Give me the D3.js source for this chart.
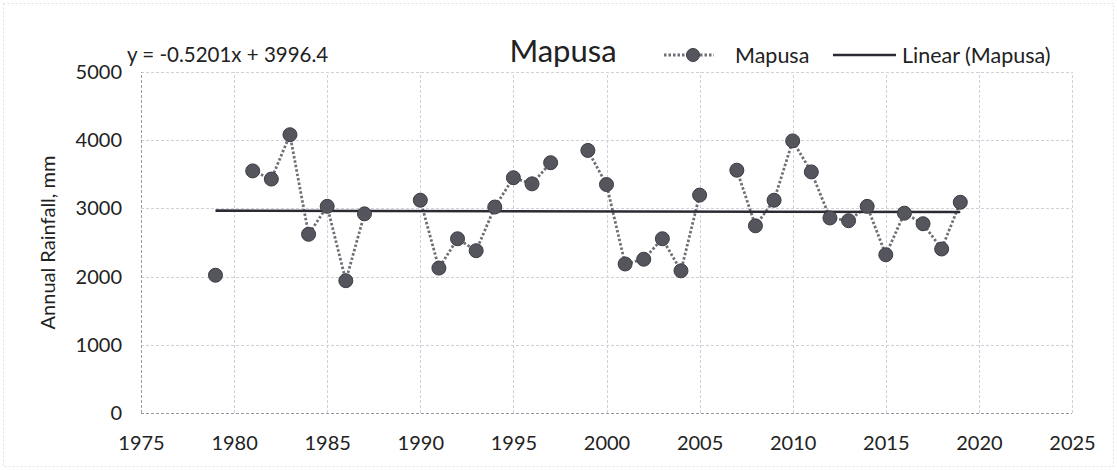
<!DOCTYPE html>
<html>
<head>
<meta charset="utf-8">
<script src="https://cdn.jsdelivr.net/npm/d3@7"></script>
<style>
  body { margin: 0; background: #fff; }
  svg { display: block; font-family: Lato, "Open Sans", sans-serif; }
</style>
</head>
<body>
<svg id="chart"></svg>
<script>
// annual rainfall at Mapusa (mm), null = no record
const years = [1979, 1980, 1981, 1982, 1983, 1984, 1985, 1986, 1987, 1988, 1989,
  1990, 1991, 1992, 1993, 1994, 1995, 1996, 1997, 1998, 1999,
  2000, 2001, 2002, 2003, 2004, 2005, 2006, 2007, 2008, 2009,
  2010, 2011, 2012, 2013, 2014, 2015, 2016, 2017, 2018, 2019];
const rainfall = [2020, null, 3550, 3430, 4080, 2620, 3030, 1940, 2920, null, null,
  3120, 2125, 2555, 2380, 3020, 3450, 3360, 3670, null, 3850,
  3350, 2185, 2255, 2555, 2085, 3195, null, 3560, 2745, 3120,
  3990, 3535, 2860, 2820, 3030, 2320, 2930, 2775, 2405, 3090];
const xTicks = [1975, 1980, 1985, 1990, 1995, 2000, 2005, 2010, 2015, 2020, 2025];
const yTicks = [0, 1000, 2000, 3000, 4000, 5000];
const trendSlope = -0.5201, trendIntercept = 3996.4;
const seriesName = "Mapusa";

const width = 1117, height = 470;
const margin = {top: 72, right: 45, bottom: 57, left: 141};

const svg = d3.select("#chart").attr("width", width).attr("height", height);

// faint frame round the whole chart
svg.append("rect")
  .attr("x", 3.5).attr("y", 3.5)
  .attr("width", width - 7).attr("height", height - 7)
  .attr("fill", "none")
  .attr("stroke", "#e2e2e2")
  .attr("stroke-dasharray", "2,2");

const x = d3.scaleLinear().domain([1975, 2025]).range([margin.left, width - margin.right]);
const y = d3.scaleLinear().domain([0, 5000]).range([height - margin.bottom, margin.top]);

const data = years.map((yr, i) => ({year: yr, value: rainfall[i]}));

// grid
const grid = svg.append("g").attr("stroke", "#cfd0da").attr("stroke-width", 1).attr("stroke-dasharray", "3,2");
grid.selectAll("line.h").data(yTicks).enter().append("line")
  .attr("x1", x(1975)).attr("x2", x(2025))
  .attr("y1", d => Math.round(y(d)) + 0.5).attr("y2", d => Math.round(y(d)) + 0.5)
  .attr("stroke", d => d === 0 ? "#9a9aa6" : null);
grid.selectAll("line.v").data(xTicks).enter().append("line")
  .attr("y1", y(0)).attr("y2", y(5000))
  .attr("x1", d => Math.round(x(d)) + 0.5).attr("x2", d => Math.round(x(d)) + 0.5)
  .attr("stroke", d => d === 1975 ? "#9a9aa6" : null);

// axes (labels only, lines are the grid above)
const xAxis = svg.append("g")
  .attr("transform", `translate(0,${y(0)})`)
  .call(d3.axisBottom(x).tickValues(xTicks).tickFormat(d3.format("d")).tickSize(0).tickPadding(23));
const yAxis = svg.append("g")
  .attr("transform", `translate(${x(1975)},0)`)
  .call(d3.axisLeft(y).tickValues(yTicks).tickFormat(d3.format("d")).tickSize(0).tickPadding(19));
[xAxis, yAxis].forEach(a => {
  a.select(".domain").remove();
  a.selectAll("text").attr("font-size", 20).attr("fill", "#222").attr("font-family", "Lato, sans-serif");
});

svg.append("text")
  .attr("transform", `translate(48,${(y(0) + y(5000)) / 2}) rotate(-90)`)
  .attr("text-anchor", "middle")
  .attr("dy", "0.35em")
  .attr("font-size", 20)
  .attr("fill", "#222")
  .text("Annual Rainfall, mm");

// dotted data line, broken at missing years
const line = d3.line()
  .defined(d => d.value != null)
  .x(d => x(d.year))
  .y(d => y(d.value));
svg.append("path")
  .datum(data)
  .attr("d", line)
  .attr("fill", "none")
  .attr("stroke", "#6f6f78")
  .attr("stroke-width", 2.8)
  .attr("stroke-dasharray", "2.5,2");

// linear trend over the span of the data
const present = data.filter(d => d.value != null);
const xr = d3.extent(present, d => d.year);
svg.append("line")
  .attr("x1", x(xr[0])).attr("x2", x(xr[1]))
  .attr("y1", y(trendSlope * xr[0] + trendIntercept))
  .attr("y2", y(trendSlope * xr[1] + trendIntercept))
  .attr("stroke", "#2b2b33")
  .attr("stroke-width", 2.6);

svg.append("g").selectAll("circle")
  .data(present)
  .enter().append("circle")
  .attr("cx", d => x(d.year))
  .attr("cy", d => y(d.value))
  .attr("r", 7)
  .attr("fill", "#55555d")
  .attr("stroke", "#3c3c44")
  .attr("stroke-width", 1);

// equation
svg.append("text")
  .attr("x", 127).attr("y", 62)
  .attr("font-size", 20.5)
  .attr("fill", "#222")
  .text(`y = ${trendSlope}x + ${trendIntercept}`);

// title
svg.append("text")
  .attr("x", 563).attr("y", 62)
  .attr("text-anchor", "middle")
  .attr("font-size", 31)
  .attr("fill", "#222")
  .text(seriesName);

// legend
const leg = svg.append("g").attr("transform", "translate(664,55)");
leg.append("line").attr("x1", 0).attr("x2", 50).attr("y1", 0).attr("y2", 0)
  .attr("stroke", "#6f6f78").attr("stroke-width", 2.8).attr("stroke-dasharray", "2.5,2");
leg.append("circle").attr("cx", 29).attr("cy", 0).attr("r", 6.5)
  .attr("fill", "#55555d").attr("stroke", "#3c3c44");
leg.append("text").attr("x", 71).attr("y", 0).attr("dy", "0.35em")
  .attr("font-size", 21.5).attr("fill", "#222").text(seriesName);
leg.append("line").attr("x1", 169).attr("x2", 232).attr("y1", 0).attr("y2", 0)
  .attr("stroke", "#2b2b33").attr("stroke-width", 2.6);
leg.append("text").attr("x", 238).attr("y", 0).attr("dy", "0.35em")
  .attr("font-size", 21.5).attr("fill", "#222").text(`Linear (${seriesName})`);
</script>
</body>
</html>
